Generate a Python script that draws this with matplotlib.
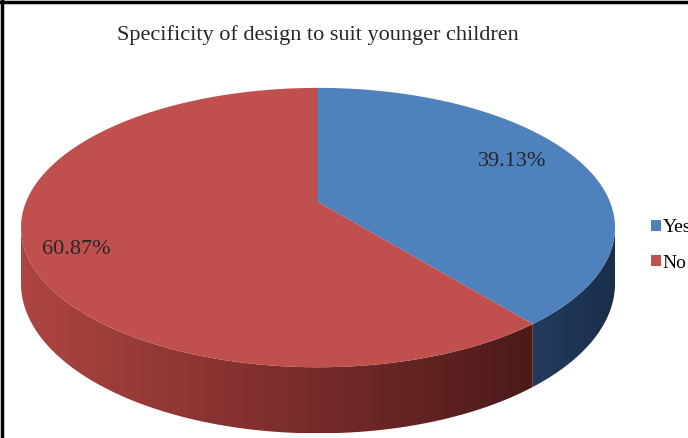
import numpy as np
import matplotlib
matplotlib.use("Agg")
import matplotlib.pyplot as plt
from matplotlib.patches import Polygon, Patch
from matplotlib.colors import LinearSegmentedColormap

title = "Specificity of design to suit younger children"
labels = ["Yes", "No"]
values = [39.13, 60.87]
top_colors = ["#4F81BD", "#C0504D"]
wall_colors = [["#223B5D", "#1A2E4A"], ["#AD4542", "#7E2E2C", "#4C1A1A"]]

# pie geometry in pixel units (simple perspective view of a disc)
CX, CY = 318, 202
A, B, P = 292, 135, 0.183
H = 54


def proj(theta):
    t = np.radians(theta)
    u, v = np.cos(t), -np.sin(t)
    d = 1 - P * v
    return CX + A * u / d, CY + B * v / d, H / d


fig = plt.figure(figsize=(6.88, 4.38), dpi=100)
ax = fig.add_axes([0, 0, 1, 1])
ax.set_xlim(0, 688)
ax.set_ylim(438, 0)
ax.axis("off")

# wedge angles, clockwise from the top
fracs = np.array(values) / sum(values)
ends = 90 - 360 * np.cumsum(fracs)
starts = np.concatenate([[90], ends[:-1]])

# visible side walls lie between the silhouette points
sil = np.degrees(np.arcsin(P))
wall_lo, wall_hi = 180 + sil, 360 - sil

for i in range(len(values)):
    a0, a1 = ends[i] % 360, starts[i] % 360
    if a1 <= a0:
        a1 += 360
    lo, hi = max(a0, wall_lo), min(a1, wall_hi)
    if hi <= lo:
        lo, hi = max(a0 - 360, wall_lo), min(a1 - 360, wall_hi)
    if hi <= lo:
        continue
    th = np.linspace(lo, hi, 200)
    x, y, h = proj(th)
    pts = np.concatenate([np.column_stack([x, y]),
                          np.column_stack([x, y + h])[::-1]])
    poly = Polygon(pts, closed=True, facecolor="none", edgecolor="none")
    ax.add_patch(poly)
    cmap = LinearSegmentedColormap.from_list("w%d" % i, wall_colors[i])
    grad = np.linspace(0, 1, 256).reshape(1, -1)
    im = ax.imshow(grad, cmap=cmap, aspect="auto",
                   extent=[x.min(), x.max(), (y + h).max(), y.min()],
                   interpolation="bilinear", zorder=1)
    im.set_clip_path(poly)

# top faces
for i in range(len(values)):
    th = np.linspace(starts[i], ends[i], 300)
    x, y, _ = proj(th)
    pts = np.vstack([[CX, CY], np.column_stack([x, y])])
    ax.add_patch(Polygon(pts, closed=True, facecolor=top_colors[i],
                         edgecolor="none", zorder=2))

# percentage labels
label_pos = [(512, 162), (76, 249)]
for (lx, ly), v in zip(label_pos, values):
    ax.text(lx, ly, "%.2f%%" % v, ha="center", va="center",
            fontsize=16, family="Liberation Serif", color="#262626", zorder=3)

ax.text(318, 35, title, ha="center", va="center", fontsize=16,
        family="Liberation Serif", color="#262626")

# legend is cut off by the right edge, as in the original picture
handles = [Patch(facecolor=c, edgecolor="none") for c in top_colors]
ax.legend(handles, labels, loc="center left", bbox_to_anchor=(0.935, 0.44),
          frameon=False, handlelength=0.5, handleheight=0.5,
          handletextpad=0.1, labelspacing=0.95, borderaxespad=0,
          prop={"family": "Liberation Serif", "size": 14})

# frame of the original chart area
ax.axhline(1.5, color="black", lw=2.5)
ax.axvline(1.5, color="black", lw=2.5)

fig.savefig("out.png", dpi=100)
